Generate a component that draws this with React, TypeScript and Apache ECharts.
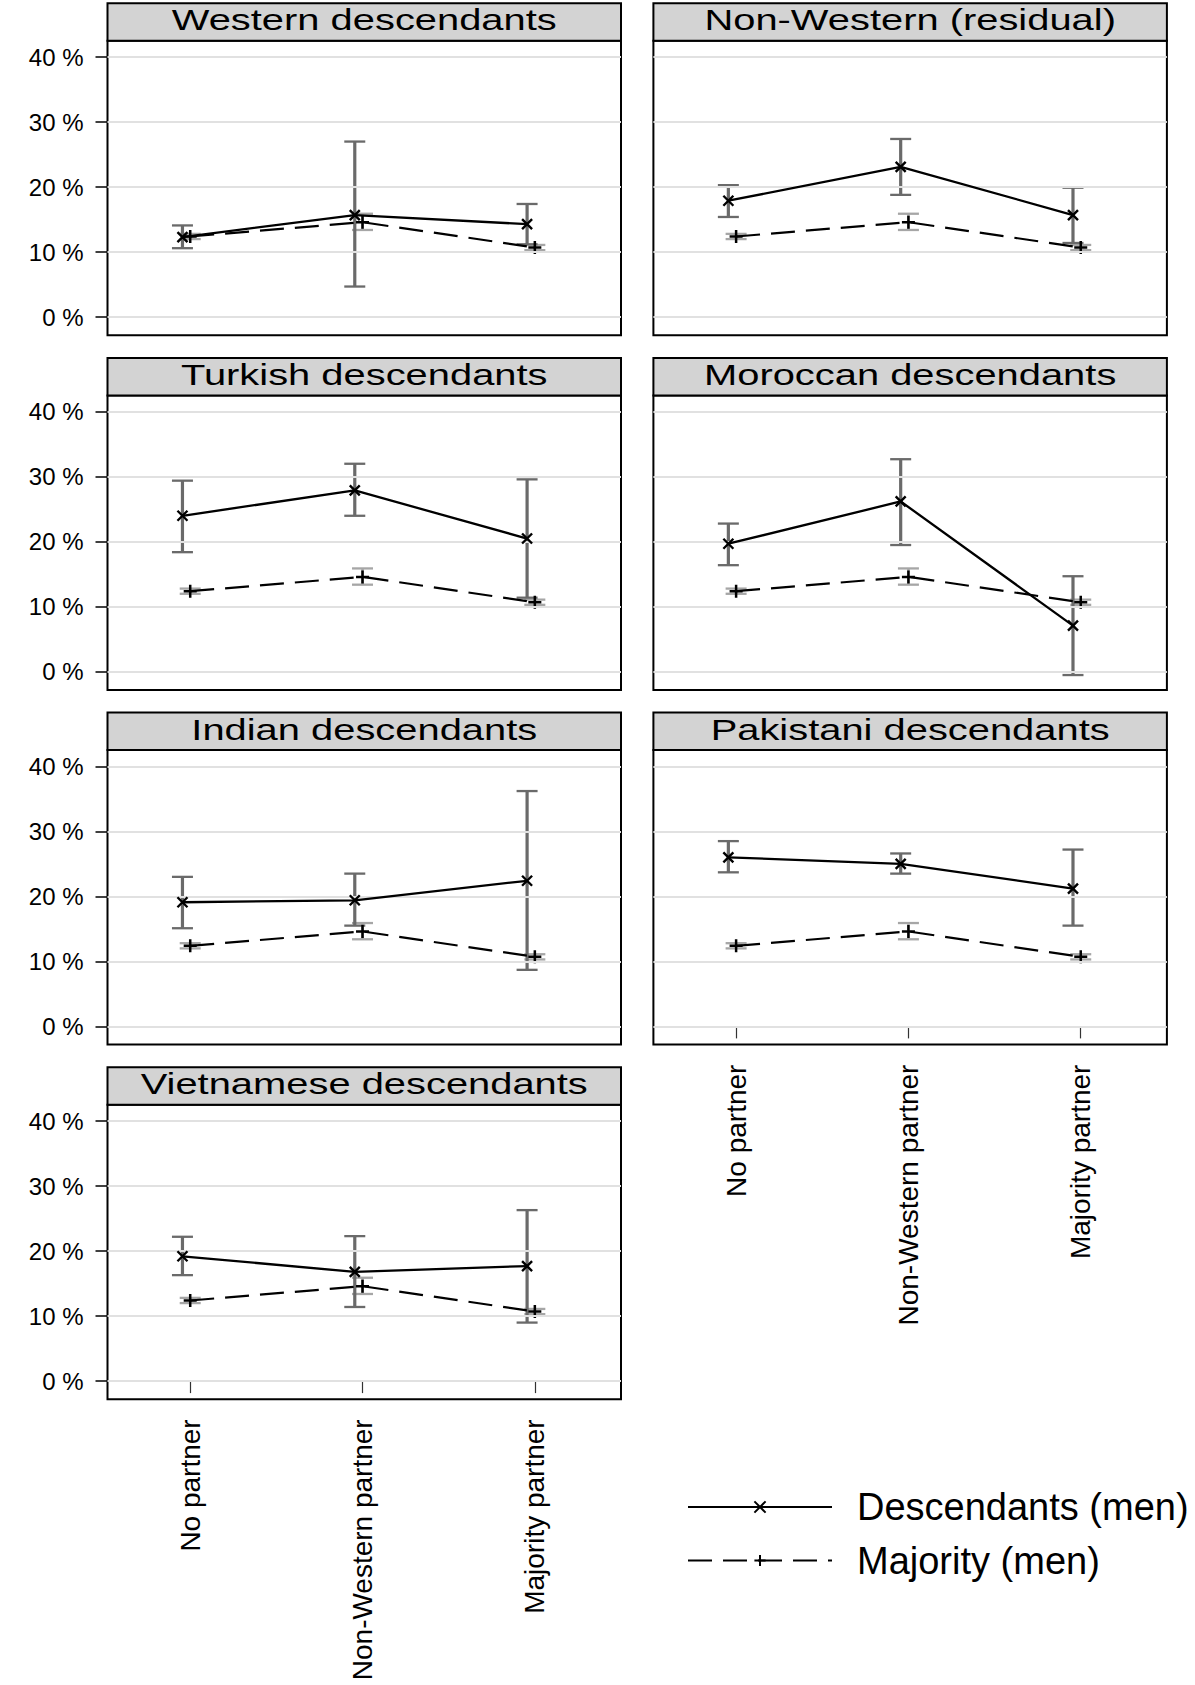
import React, { useEffect, useRef } from "react";
import * as echarts from "echarts";

const FONT = "'Liberation Sans', Arial, Helvetica, sans-serif";

const CATEGORIES = ["No partner", "Non-Western partner", "Majority partner"];
const Y_TICKS = [0, 10, 20, 30, 40];
const PANEL_TITLES = [
  "Western descendants",
  "Non-Western (residual)",
  "Turkish descendants",
  "Moroccan descendants",
  "Indian descendants",
  "Pakistani descendants",
  "Vietnamese descendants",
];

// Descendants (men): point estimates and confidence bounds, in %
const westernDesc = [12.3, 15.7, 14.3];
const westernLow = [10.6, 4.7, 11.2];
const westernHigh = [14.1, 27.0, 17.4];

const nonWesternDesc = [17.9, 23.1, 15.7];
const nonWesternLow = [15.4, 18.8, 11.4];
const nonWesternHigh = [20.3, 27.4, 19.9];

const turkishDesc = [24.0, 27.9, 20.5];
const turkishLow = [18.4, 24.0, 11.4];
const turkishHigh = [29.4, 32.0, 29.6];

const moroccanDesc = [19.7, 26.2, 7.1];
const moroccanLow = [16.4, 19.5, -0.5];
const moroccanHigh = [22.8, 32.7, 14.7];

const indianDesc = [19.1, 19.4, 22.4];
const indianLow = [15.1, 15.5, 8.7];
const indianHigh = [23.0, 23.5, 36.2];

const pakistaniDesc = [26.0, 25.0, 21.2];
const pakistaniLow = [23.7, 23.5, 15.5];
const pakistaniHigh = [28.5, 26.6, 27.2];

const vietnameseDesc = [19.2, 16.8, 17.7];
const vietnameseLow = [16.3, 11.4, 9.0];
const vietnameseHigh = [22.2, 22.3, 26.3];

// Majority (men): same reference in every panel
const majorityMen = [12.4, 14.6, 10.7];
const majorityLow = [12.0, 13.4, 10.3];
const majorityHigh = [12.8, 15.9, 11.1];

const PANEL_DATA = [
  { desc: westernDesc, low: westernLow, high: westernHigh },
  { desc: nonWesternDesc, low: nonWesternLow, high: nonWesternHigh },
  { desc: turkishDesc, low: turkishLow, high: turkishHigh },
  { desc: moroccanDesc, low: moroccanLow, high: moroccanHigh },
  { desc: indianDesc, low: indianLow, high: indianHigh },
  { desc: pakistaniDesc, low: pakistaniLow, high: pakistaniHigh },
  { desc: vietnameseDesc, low: vietnameseLow, high: vietnameseHigh },
];

const DESC_NAME = "Descendants (men)";
const MAJ_NAME = "Majority (men)";

// layout
const COL_LEFT = [107.5, 653.4];
const GRID_W = 513.5;
const HEADER_TOP = [3.2, 357.9, 712.5, 1067.2];
const HEADER_H = 37.6;
const GRID_H = 294.5;
const DESC_OFFSET = -0.045;
const MAJ_OFFSET = 0;

const CROSS = "path://M0 0L10 10M10 0L0 10";
const PLUS = "path://M5 0L5 10M0 5L10 5";

function errorBars(i: number, lows: number[], highs: number[], offset: number, color: string, width: number, z: number) {
  return {
    type: "custom",
    xAxisIndex: i,
    yAxisIndex: i,
    z,
    silent: true,
    encode: { x: 0, y: [1, 2] },
    data: lows.map((l, k) => [k + 1 + offset, l, highs[k]]),
    renderItem: (_params: any, api: any) => {
      const xv = api.value(0);
      const lo = api.coord([xv, api.value(1)]);
      const hi = api.coord([xv, api.value(2)]);
      const hw = 10.5;
      const bar = { stroke: color, lineWidth: width };
      const cap = { stroke: color, lineWidth: 2.3 };
      return {
        type: "group",
        children: [
          { type: "line", shape: { x1: lo[0], y1: lo[1], x2: hi[0], y2: hi[1] }, style: bar },
          { type: "line", shape: { x1: lo[0] - hw, y1: lo[1], x2: lo[0] + hw, y2: lo[1] }, style: cap },
          { type: "line", shape: { x1: hi[0] - hw, y1: hi[1], x2: hi[0] + hw, y2: hi[1] }, style: cap },
        ],
      };
    },
  };
}

function buildOption() {
  const grids: any[] = [];
  const xAxes: any[] = [];
  const yAxes: any[] = [];
  const series: any[] = [];
  const graphics: any[] = [];

  PANEL_TITLES.forEach((title, i) => {
    const row = Math.floor(i / 2);
    const col = i % 2;
    const left = COL_LEFT[col];
    const top = HEADER_TOP[row] + HEADER_H;
    const showX = i === 5 || i === 6;
    const showY = col === 0;

    grids.push({
      left,
      top,
      width: GRID_W,
      height: GRID_H,
      show: true,
      borderColor: "#000",
      borderWidth: 2,
      backgroundColor: "#fff",
      containLabel: false,
    });

    xAxes.push({
      type: "value",
      gridIndex: i,
      min: 0.52,
      max: 3.5,
      axisLine: { show: false },
      splitLine: { show: false },
      axisTick: {
        show: showX,
        customValues: [1, 2, 3],
        length: 12,
        lineStyle: { color: "#333", width: 1.2 },
      },
      axisLabel: {
        show: showX,
        customValues: [1, 2, 3],
        rotate: 90,
        margin: 20,
        fontSize: 28,
        fontFamily: FONT,
        color: "#000",
        formatter: (v: number) => CATEGORIES[Math.round(v) - 1] ?? "",
      },
    });

    yAxes.push({
      type: "value",
      gridIndex: i,
      min: -2.8,
      max: 42.5,
      axisLine: { show: false },
      splitLine: { show: false },
      axisTick: {
        show: showY,
        customValues: Y_TICKS,
        length: 12,
        lineStyle: { color: "#000", width: 1.5 },
      },
      axisLabel: {
        show: showY,
        customValues: Y_TICKS,
        margin: 24,
        fontSize: 24,
        fontFamily: FONT,
        color: "#000",
        formatter: (v: number) => `${v} %`,
      },
    });

    // horizontal gridlines
    series.push({
      type: "line",
      xAxisIndex: i,
      yAxisIndex: i,
      data: [],
      z: 1,
      silent: true,
      markLine: {
        silent: true,
        symbol: ["none", "none"],
        label: { show: false },
        lineStyle: { color: "#e1e1e1", width: 2, type: "solid" },
        data: Y_TICKS.map((v) => ({ yAxis: v })),
      },
    });

    const d = PANEL_DATA[i];
    series.push(errorBars(i, majorityLow, majorityHigh, MAJ_OFFSET, "#a6a6a6", 2.6, 2));
    series.push(errorBars(i, d.low, d.high, DESC_OFFSET, "#6a6a6a", 3.2, 3));

    series.push({
      name: MAJ_NAME,
      type: "line",
      xAxisIndex: i,
      yAxisIndex: i,
      z: 4,
      data: majorityMen.map((v, k) => [k + 1 + MAJ_OFFSET, v]),
      symbol: PLUS,
      symbolSize: 13,
      showSymbol: true,
      itemStyle: { color: "#000", borderColor: "#000", borderWidth: 2.5 },
      lineStyle: { color: "#000", width: 2.2, type: [24, 11] },
    });

    series.push({
      name: DESC_NAME,
      type: "line",
      xAxisIndex: i,
      yAxisIndex: i,
      z: 5,
      data: d.desc.map((v, k) => [k + 1 + DESC_OFFSET, v]),
      symbol: CROSS,
      symbolSize: 10,
      showSymbol: true,
      itemStyle: { color: "#000", borderColor: "#000", borderWidth: 2.4 },
      lineStyle: { color: "#000", width: 2.3, type: "solid" },
    });

    // panel header
    graphics.push({
      type: "rect",
      shape: { x: left, y: HEADER_TOP[row], width: GRID_W, height: HEADER_H },
      style: { fill: "#d3d3d3", stroke: "#000", lineWidth: 2 },
      z: 10,
    });
    graphics.push({
      type: "text",
      x: left + GRID_W / 2,
      y: HEADER_TOP[row] + 16.5,
      scaleX: 1.33,
      z: 11,
      style: {
        text: title,
        x: 0,
        y: 0,
        align: "center",
        verticalAlign: "middle",
        textAlign: "center",
        textVerticalAlign: "middle",
        font: `30px ${FONT}`,
        fontSize: 30,
        fontFamily: FONT,
        fill: "#000",
      },
    });
  });

  return {
    animation: false,
    backgroundColor: "#fff",
    grid: grids,
    xAxis: xAxes,
    yAxis: yAxes,
    series,
    graphic: graphics,
    legend: {
      data: [DESC_NAME, MAJ_NAME],
      orient: "vertical",
      left: 682,
      top: 1481,
      itemWidth: 144,
      itemHeight: 14,
      itemGap: 11.5,
      selectedMode: false,
      textStyle: {
        fontSize: 38,
        lineHeight: 42,
        fontFamily: FONT,
        color: "#000",
        padding: [0, 0, 0, 20],
      },
    },
  };
}

export default function App() {
  const ref = useRef<HTMLDivElement>(null);
  useEffect(() => {
    if (!ref.current) return;
    const chart = echarts.init(ref.current, undefined, { renderer: "svg" });
    chart.setOption(buildOption() as any);
    return () => chart.dispose();
  }, []);
  return (
    <div
      ref={ref}
      style={{ position: "absolute", left: 0, top: 0, width: 1195, height: 1685, background: "#fff" }}
    />
  );
}
